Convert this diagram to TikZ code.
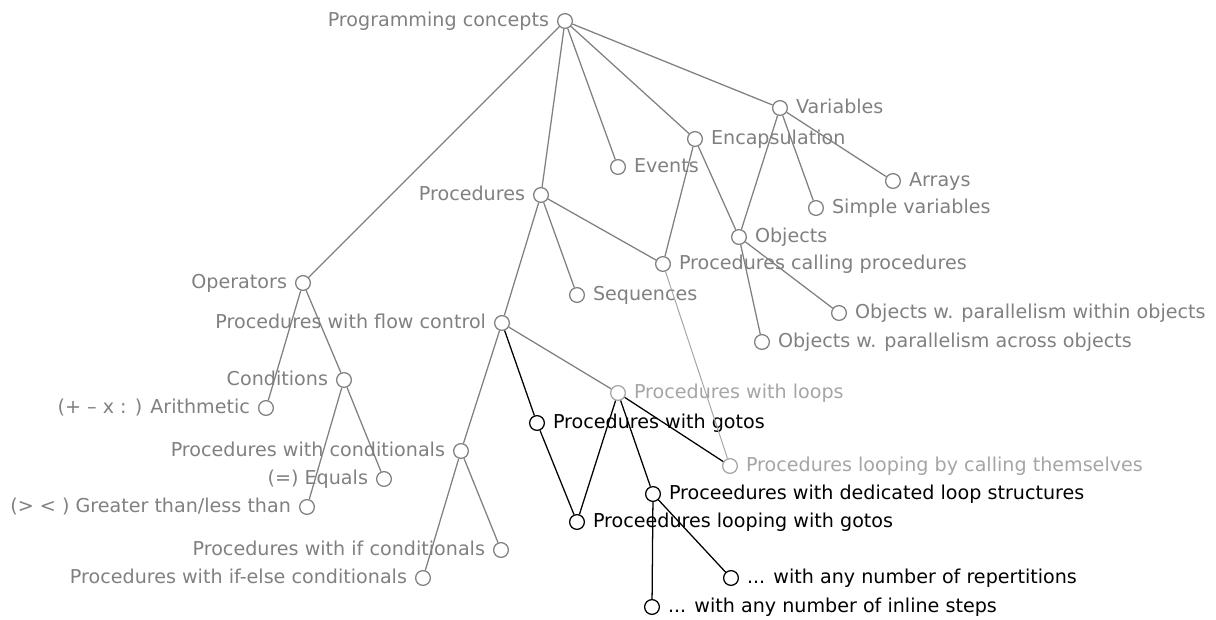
\documentclass[tikz,border=0pt]{standalone}
\usepackage{fontspec}
\setmainfont{DejaVu Sans}
\usepackage{tikz}
\usetikzlibrary{positioning}
\definecolor{conceptgray}{RGB}{128,128,128}
\definecolor{palegray}{RGB}{165,165,165}
\tikzset{
  concept/.style={circle, draw=conceptgray, fill=white, line width=0.9pt, minimum size=10.5pt, inner sep=0pt},
  hot/.style={concept, draw=black},
  pale/.style={concept, draw=palegray},
  lbl/.style={text height=0.75em, text depth=0pt, inner sep=1.5pt, font=\fontsize{13.6}{16}\selectfont},
  link/.style={conceptgray, line width=0.9pt},
  hotlink/.style={black, line width=0.9pt},
  palelink/.style={palegray, line width=0.7pt}
}
\begin{document}
\begin{tikzpicture}[x=0.025cm, y=-0.025cm, label distance=4pt,
  every label/.style={lbl, text=conceptgray}]
\useasboundingbox (0,0) rectangle (1216,619);
% top levels
\node[concept, label=left:Programming concepts] (prog) at (565,21) {};
\node[concept, label=left:Procedures] (proc) at (541,195) {};
\node[concept, label=right:Events] (events) at (618,167) {};
\node[concept, label=right:Encapsulation] (encap) at (695,139) {};
\node[concept, label=right:Variables] (vars) at (780,108) {};
\node[concept, label=right:Arrays] (arrays) at (893,181) {};
\node[concept, label=right:Simple variables] (simple) at (816,208) {};
\node[concept, label=right:Objects] (objects) at (739,237) {};
\node[concept, label=right:Procedures calling procedures] (calling) at (663,264) {};
\node[concept, label=right:Objects w. parallelism within objects] (within) at (839,313) {};
\node[concept, label=right:Objects w. parallelism across objects] (across) at (762,342) {};
\node[concept, label=left:Operators] (ops) at (303,283) {};
\node[concept, label=right:Sequences] (seq) at (577,295) {};
\node[concept, label=left:Procedures with flow control] (flow) at (502,323) {};
% operators
\node[concept, label=left:Conditions] (cond) at (344,380) {};
\node[concept, label={left:{(+ – x : ) Arithmetic}}] (arith) at (266,408) {};
\node[concept, label={left:{(=) Equals}}] (equals) at (384,479) {};
\node[concept, label={left:{(> < ) Greater than/less than}}] (greater) at (307,507) {};
% flow control
\node[concept, label=left:Procedures with conditionals] (condproc) at (461,451) {};
\node[concept, label=left:Procedures with if conditionals] (ifproc) at (501,550) {};
\node[concept, label=left:Procedures with if-else conditionals] (ifelse) at (423,578) {};
\node[pale, label={[text=palegray]right:Procedures with loops}] (loops) at (618,393) {};
\node[hot, label={[text=black]right:Procedures with gotos}] (gotos) at (537,423) {};
\node[pale, label={[text=palegray]right:Procedures looping by calling themselves}] (selfcall) at (730,466) {};
\node[hot, label={[text=black]right:Proceedures with dedicated loop structures}] (dedicated) at (653,494) {};
\node[hot, label={[text=black]right:Proceedures looping with gotos}] (loopgoto) at (577,522) {};
\node[hot, label={[text=black]right:... with any number of repertitions}] (reps) at (731,578) {};
\node[hot, label={[text=black]right:... with any number of inline steps}] (inline) at (652,607) {};
% connectors
\draw[link] (prog) -- (ops);
\draw[link] (prog) -- (proc);
\draw[link] (prog) -- (events);
\draw[link] (prog) -- (encap);
\draw[link] (prog) -- (vars);
\draw[link] (vars) -- (arrays);
\draw[link] (vars) -- (simple);
\draw[link] (vars) -- (objects);
\draw[link] (encap) -- (objects);
\draw[link] (encap) -- (calling);
\draw[link] (objects) -- (within);
\draw[link] (objects) -- (across);
\draw[link] (proc) -- (calling);
\draw[link] (proc) -- (seq);
\draw[link] (proc) -- (flow);
\draw[palelink] (calling) -- (selfcall);
\draw[link] (ops) -- (arith);
\draw[link] (ops) -- (cond);
\draw[link] (cond) -- (greater);
\draw[link] (cond) -- (equals);
\draw[link] (flow) -- (condproc);
\draw[link] (flow) -- (loops);
\draw[link] (condproc) -- (ifproc);
\draw[link] (condproc) -- (ifelse);
\draw[hotlink] (flow) -- (gotos);
\draw[hotlink] (gotos) -- (loopgoto);
\draw[hotlink] (loops) -- (loopgoto);
\draw[hotlink] (loops) -- (dedicated);
\draw[hotlink] (loops) -- (selfcall);
\draw[hotlink] (dedicated) -- (reps);
\draw[hotlink] (dedicated) -- (inline);
\end{tikzpicture}
\end{document}
